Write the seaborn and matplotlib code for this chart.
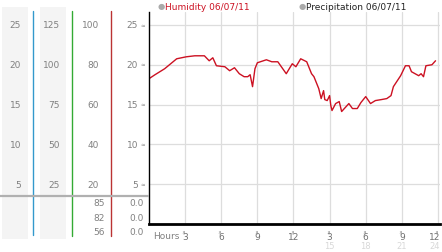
import matplotlib
matplotlib.use("Agg")
import matplotlib.pyplot as plt
import matplotlib.transforms as mtransforms
from matplotlib.patches import Rectangle
import seaborn as sns
import pandas as pd

# ---- data ----
hours = [0.0, 0.5, 1.3, 2.3, 3.1, 3.8, 4.6, 5.0, 5.3, 5.6, 6.3, 6.7, 7.1, 7.5, 7.9, 8.2,
         8.4, 8.6, 8.8, 9.0, 9.75, 10.2, 10.7, 11.4, 11.9, 12.2, 12.6, 13.1, 13.5, 13.7,
         14.1, 14.3, 14.5, 14.6, 14.8, 15.0, 15.1, 15.2, 15.5, 15.8, 16.0, 16.3, 16.6,
         16.9, 17.3, 17.6, 18.0, 18.4, 18.8, 19.3, 19.75, 20.1, 20.3, 20.9, 21.3, 21.6,
         21.8, 22.4, 22.6, 22.8, 23.0, 23.5, 23.8]
humidity = [73, 75, 78, 83, 84, 84.5, 84.5, 82, 83.5, 79.5, 79, 77, 78.5, 75.5, 74, 74,
            75, 69, 78, 81, 82.5, 81.5, 81.5, 75.5, 80.5, 79, 83, 81.5, 75.5, 74,
            68, 63, 67, 62.5, 62, 64.5, 59.5, 57, 60.5, 61.5, 56.5, 58.5, 60.5,
            58, 58, 61, 64, 60.5, 62, 62.5, 63, 64.5, 69, 74.5, 79.5, 79.5,
            76.5, 74.5, 75.5, 74, 79.5, 80, 82]
hour_ticks = [3, 6, 9, 12, 15, 18, 21, 24]
hour_labels = ["3", "6", "9", "12", "3", "6", "9", "12"]
hour_labels2 = ["15", "18", "21", "24"]
grid_humidity = [100, 80, 60, 40, 20]
col1_labels = ["25", "20", "15", "10", "5"]
col2_labels = ["125", "100", "75", "50", "25"]
col3_labels = ["100", "80", "60", "40", "20"]
col4_labels = ["25", "20", "15", "10", "5"]
summary_humidity = ["85", "82", "56"]
summary_precip = ["0.0", "0.0", "0.0"]
legend_labels = ["Humidity 06/07/11", "Precipitation 06/07/11"]

df = pd.DataFrame({"hour": hours, "humidity": humidity})

sns.set_theme(style="white")
plt.rcParams["font.family"] = ["DejaVu Sans"]

W, H = 442, 253
fig = plt.figure(figsize=(W / 100, H / 100), dpi=100)
fig.patch.set_facecolor("white")

# main axes
x0, x1, ytop, ybot = 149, 440, 13, 225
ax = fig.add_axes([x0 / W, 1 - ybot / H, (x1 - x0) / W, (ybot - ytop) / H])
sns.lineplot(data=df, x="hour", y="humidity", ax=ax, color="#cc1122", linewidth=1.0)
ax.set_xlim(0, 24.17)
ax.set_ylim(0, 106.5)
ax.set_xlabel("")
ax.set_ylabel("")
for s in ["top", "right"]:
    ax.spines[s].set_visible(False)
ax.spines["left"].set_color("black")
ax.spines["left"].set_linewidth(1.0)
ax.spines["bottom"].set_color("black")
ax.spines["bottom"].set_linewidth(2.0)
ax.set_yticks(grid_humidity)
ax.set_yticklabels([])
ax.set_xticks(hour_ticks)
ax.set_xticklabels(hour_labels, fontsize=6.5, color="#707070")
ax.tick_params(axis="both", length=0, pad=6)
ax.grid(True, color="#dddddd", linewidth=0.9)
ax.set_facecolor("white")
shift = mtransforms.ScaledTranslation(-3 / 100, 0, fig.dpi_scale_trans)
last = ax.get_xticklabels()[-1]
last.set_transform(last.get_transform() + shift)

# small marks at tick positions
for g in grid_humidity:
    ax.text(-0.012, g, "≈", transform=ax.get_yaxis_transform(), fontsize=4,
            color="#888888", ha="right", va="center", clip_on=False)
for t in hour_ticks:
    ax.text(t, -0.022, "≈", transform=ax.get_xaxis_transform(), fontsize=4,
            color="#888888", ha="center", va="top", rotation=90, clip_on=False)
for t, lab in zip(hour_ticks[4:], hour_labels2):
    tr = ax.get_xaxis_transform()
    if lab == hour_labels2[-1]:
        tr = tr + shift
    ax.text(t, -0.10, lab, transform=tr, fontsize=6,
            color="#d8d8d8", ha="center", va="center", clip_on=False)
ax.text(0.015, -0.035, "Hours", transform=ax.transAxes, fontsize=6.5,
        color="#808080", ha="left", va="top")

# legend
fig.text(161 / W, 1 - 7 / H, "●", fontsize=6, color="#aaaaaa", ha="center", va="center")
fig.text(165 / W, 1 - 7 / H, legend_labels[0], fontsize=6.5, color="#cc1122",
         ha="left", va="center")
fig.text(302 / W, 1 - 7 / H, "●", fontsize=6, color="#aaaaaa", ha="center", va="center")
fig.text(306 / W, 1 - 7 / H, legend_labels[1], fontsize=6.5, color="#222222",
         ha="left", va="center")

# left panel (pixel coords)
lax = fig.add_axes([0, 0, x0 / W, 1])
lax.set_xlim(0, x0)
lax.set_ylim(H, 0)
lax.axis("off")
lax.add_patch(Rectangle((2, 8), 26, 232, color="#f4f4f4", lw=0))
lax.add_patch(Rectangle((40, 8), 26, 232, color="#f4f4f4", lw=0))
lax.plot([33, 33], [12, 236], color="#3399cc", lw=1.0)
lax.plot([72, 72], [12, 237], color="#33aa33", lw=1.0)
lax.plot([111, 111], [12, 237], color="#bb3333", lw=1.0)
lax.plot([0, x0], [197, 197], color="#b0b0b0", lw=1.6)

bt = mtransforms.blended_transform_factory(lax.transData, ax.transData)
for g, a, b, c, d in zip(grid_humidity, col1_labels, col2_labels, col3_labels, col4_labels):
    for xr, lab in [(21, a), (60, b), (99, c), (138, d)]:
        lax.text(xr, g, lab, transform=bt, fontsize=6.5, color="#808080",
                 ha="right", va="center")
for yy, hlab, plab in zip([204, 219, 233], summary_humidity, summary_precip):
    lax.text(105, yy, hlab, fontsize=6.5, color="#808080", ha="right", va="center")
    lax.text(144, yy, plab, fontsize=6.5, color="#808080", ha="right", va="center")

fig.savefig("out.png", dpi=100)
